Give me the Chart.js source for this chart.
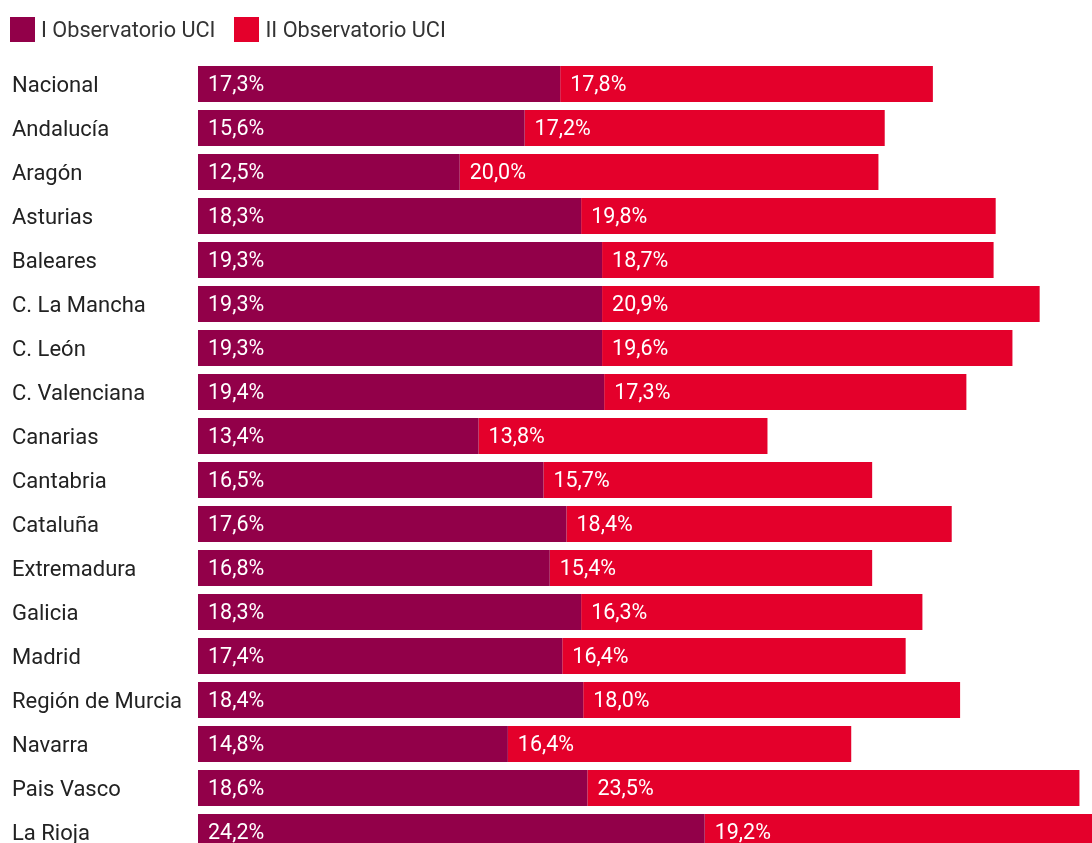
<!DOCTYPE html>
<html>
<head>
<meta charset="utf-8">
<script src="https://cdn.jsdelivr.net/npm/chart.js@4/dist/chart.umd.min.js"></script>
<style>
  html, body { margin: 0; padding: 0; background: #fff; overflow: hidden; }
  #wrap { position: relative; width: 1092px; height: 854px; }
  #legend {
    position: absolute; left: 10px; top: 17px;
    display: flex; align-items: center;
    font-family: Roboto, sans-serif; font-size: 21.7px; color: #333;
  }
  #legend .item { display: flex; align-items: center; margin-right: 19px; }
  #legend .box { width: 25px; height: 25px; margin-right: 6px; }
</style>
</head>
<body>
<div id="wrap">
  <canvas id="chart"></canvas>
  <div id="legend"></div>
</div>
<script>
// Regions and values
const regions = [
  "Nacional", "Andalucía", "Aragón", "Asturias", "Baleares", "C. La Mancha",
  "C. León", "C. Valenciana", "Canarias", "Cantabria", "Cataluña", "Extremadura",
  "Galicia", "Madrid", "Región de Murcia", "Navarra", "Pais Vasco", "La Rioja",
];
const firstObs = [17.3, 15.6, 12.5, 18.3, 19.3, 19.3, 19.3, 19.4, 13.4, 16.5, 17.6, 16.8, 18.3, 17.4, 18.4, 14.8, 18.6, 24.2];
const secondObs = [17.8, 17.2, 20.0, 19.8, 18.7, 20.9, 19.6, 17.3, 13.8, 15.7, 18.4, 15.4, 16.3, 16.4, 18.0, 16.4, 23.5, 19.2];

const seriesNames = ["I Observatorio UCI", "II Observatorio UCI"];
const colors = ["#920049", "#e4002b"];

// white value labels at the start of each segment
const barLabels = {
  id: "barLabels",
  afterDatasetsDraw(chart) {
    const { ctx, chartArea } = chart;
    ctx.save();
    ctx.beginPath();
    ctx.rect(chartArea.left, chartArea.top, chartArea.right - chartArea.left, chartArea.bottom - chartArea.top);
    ctx.clip();
    ctx.font = "21.5px Roboto";
    ctx.fillStyle = "#ffffff";
    ctx.textAlign = "left";
    ctx.textBaseline = "middle";
    chart.data.datasets.forEach((ds, i) => {
      chart.getDatasetMeta(i).data.forEach((bar, j) => {
        const txt = ds.data[j].toFixed(1).replace(".", ",") + "%";
        ctx.fillText(txt, bar.base + 10, bar.y + 2);
      });
    });
    ctx.restore();
  },
};

const chart = new Chart(document.getElementById("chart"), {
  type: "bar",
  data: {
    labels: regions,
    datasets: [
      { label: seriesNames[0], data: firstObs, backgroundColor: colors[0] },
      { label: seriesNames[1], data: secondObs, backgroundColor: colors[1] },
    ],
  },
  options: {
    indexAxis: "y",
    responsive: true,
    maintainAspectRatio: false,
    animation: false,
    layout: { padding: { left: 12, right: 0, top: 62, bottom: 0 } },
    datasets: {
      bar: { categoryPercentage: 1, barPercentage: 36 / 44 },
    },
    scales: {
      x: {
        stacked: true,
        display: false,
        min: 0,
        max: 42.7,
      },
      y: {
        stacked: true,
        grid: { display: false },
        border: { display: false },
        ticks: {
          crossAlign: "far",
          labelOffset: 2,
          color: "#222",
          font: { family: "Roboto", size: 22 },
        },
        afterFit(scale) {
          scale.width = 186;
          scale.paddingTop = 0;
          scale.paddingBottom = 0;
        },
      },
    },
    plugins: {
      legend: { display: false },
      tooltip: { enabled: false },
    },
  },
  plugins: [barLabels],
});

// legend built from the chart's own datasets
const legendEl = document.getElementById("legend");
chart.data.datasets.forEach((ds) => {
  const item = document.createElement("div");
  item.className = "item";
  const box = document.createElement("span");
  box.className = "box";
  box.style.background = ds.backgroundColor;
  const text = document.createElement("span");
  text.textContent = ds.label;
  item.appendChild(box);
  item.appendChild(text);
  legendEl.appendChild(item);
});
</script>
</body>
</html>
